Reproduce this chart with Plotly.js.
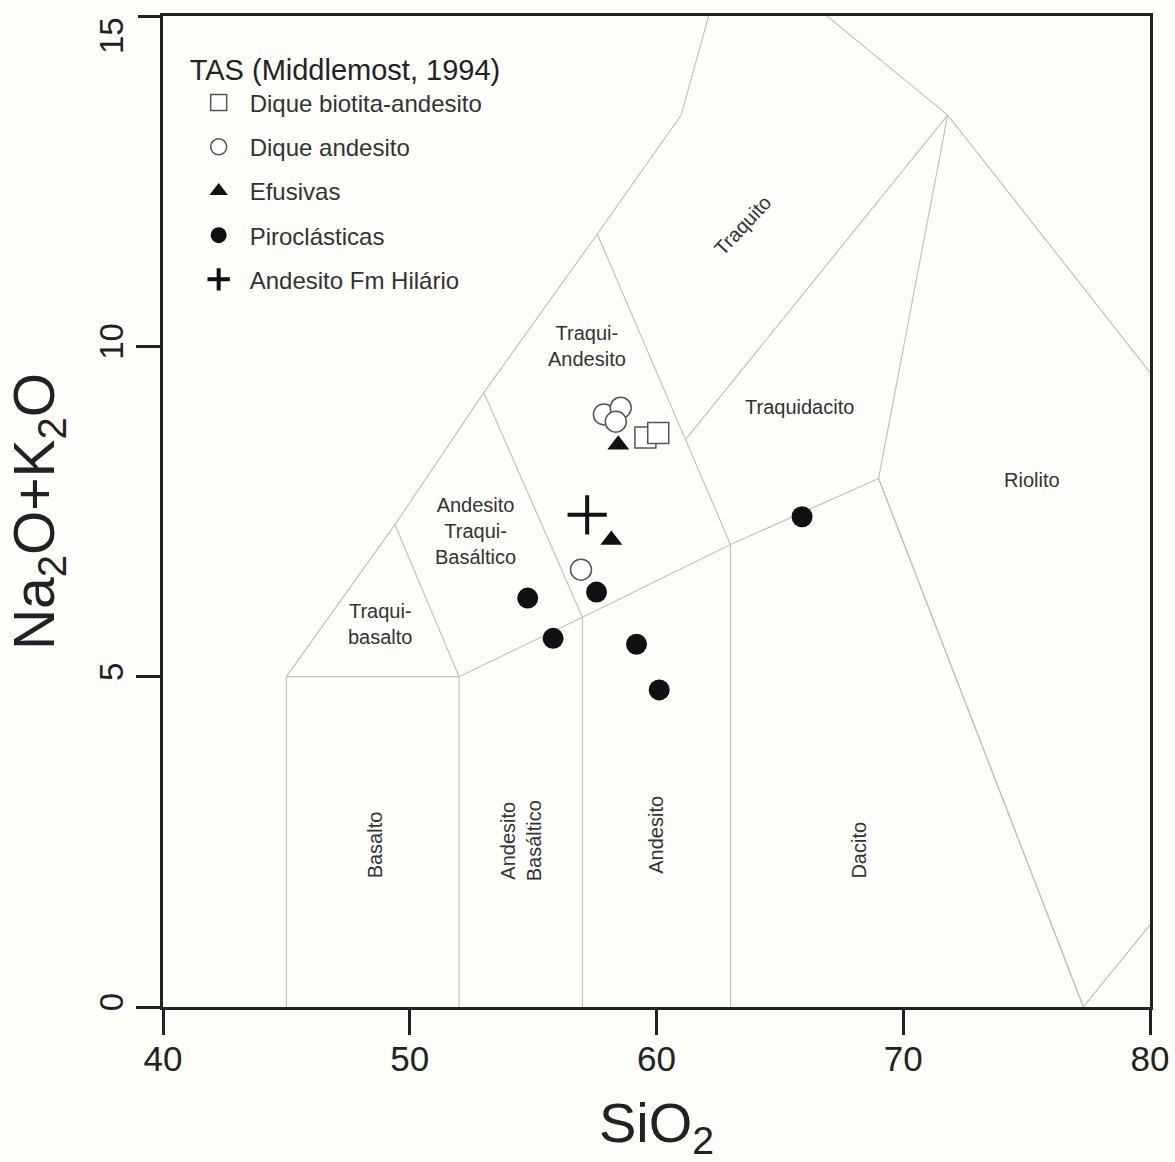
<!DOCTYPE html>
<html>
<head>
<meta charset="utf-8">
<script src="https://cdn.plot.ly/plotly-3.0.1.min.js"></script>
<style>html,body{margin:0;padding:0;background:#fdfdf9;}#chart{width:1175px;height:1162px;}</style>
</head>
<body>
<div id="chart"></div>
<script>
// TAS field boundaries (Middlemost, 1994) as polylines: SiO2 and Na2O+K2O vertices
var boundaryX = [
  [45, 45, 52, 52],
  [52, 57, 63, 69, 77.3, 87.5],
  [57, 57],
  [63, 63],
  [45, 49.4, 53, 57.6, 61, 63],
  [49.4, 52],
  [53, 57],
  [57.6, 63],
  [61.2, 71.8],
  [69, 71.8, 85.9],
  [63, 71.8],
  [69, 77.3]
];
var boundaryY = [
  [0, 5, 5, 0],
  [5, 5.9, 7, 8, 0, 4.7],
  [0, 5.9],
  [0, 7],
  [5, 7.3, 9.3, 11.7, 13.5, 16.2],
  [7.3, 5],
  [9.3, 5.9],
  [11.7, 7],
  [8.6, 13.5],
  [8, 13.5, 6.8],
  [16.2, 13.5],
  [8, 0]
];

// Field names and label positions
var fieldNames = ["Traqui-<br>Andesito", "Traquidacito", "Riolito", "Andesito<br>Traqui-<br>Basáltico",
  "Traqui-<br>basalto", "Basalto", "Andesito<br>Basáltico", "Andesito", "Dacito", "Traquito"];
var fieldX = [57.2, 65.78, 75.2, 52.65, 48.8, 48.6, 54.5, 60.0, 68.2, 63.5];
var fieldY = [10.0, 9.08, 7.98, 7.2, 5.8, 2.45, 2.52, 2.6, 2.38, 11.84];
var fieldAngle = [0, 0, 0, 0, 0, -90, -90, -90, -90, -47];

// Samples
var seriesNames = ["Dique biotita-andesito", "Dique andesito", "Efusivas", "Piroclásticas", "Andesito Fm Hilário"];
var biotitaSiO2 = [59.55, 60.07];
var biotitaAlk = [8.62, 8.69];
var diqueSiO2 = [57.87, 58.55, 58.35, 56.94];
var diqueAlk = [8.97, 9.07, 8.86, 6.62];
var efusivasSiO2 = [58.45, 58.17];
var efusivasAlk = [8.51, 7.07];
var piroSiO2 = [54.78, 55.81, 57.57, 59.19, 60.11, 65.9];
var piroAlk = [6.19, 5.58, 6.28, 5.49, 4.8, 7.42];
var hilarioSiO2 = [57.19];
var hilarioAlk = [7.45];

var xTicks = [40, 50, 60, 70, 80];
var yTicks = [0, 5, 10];
var yTopTick = [15];

var FONT = "Liberation Sans, Arial, sans-serif";
var traces = [];

// boundaries: one trace, segments split by nulls
var bx = [], by = [];
for (var i = 0; i < boundaryX.length; i++) {
  bx = bx.concat(boundaryX[i]); by = by.concat(boundaryY[i]);
  bx.push(null); by.push(null);
}
traces.push({x: bx, y: by, mode: "lines", type: "scatter", showlegend: false, hoverinfo: "skip",
  line: {color: "#c2c2c0", width: 1.2}, connectgaps: false});

traces.push({x: biotitaSiO2, y: biotitaAlk, name: seriesNames[0], legendgroup: "a", mode: "markers", type: "scatter",
  marker: {symbol: "square", size: 21, color: "#ffffff", line: {color: "#555555", width: 1.5}}});
traces.push({x: diqueSiO2, y: diqueAlk, name: seriesNames[1], legendgroup: "b", mode: "markers", type: "scatter",
  marker: {symbol: "circle", size: 21, color: "#ffffff", line: {color: "#555555", width: 1.5}}});
traces.push({x: efusivasSiO2, y: efusivasAlk, name: seriesNames[2], legendgroup: "c", mode: "markers", type: "scatter",
  marker: {symbol: "triangle-up", size: 19, color: "#111111", line: {width: 0}}});
traces.push({x: piroSiO2, y: piroAlk, name: seriesNames[3], legendgroup: "d", mode: "markers", type: "scatter",
  marker: {symbol: "circle", size: 21, color: "#111111", line: {width: 0}}});
traces.push({x: hilarioSiO2, y: hilarioAlk, name: seriesNames[4], legendgroup: "e", mode: "markers", type: "scatter",
  marker: {symbol: "cross-thin", size: 28, color: "#111111", line: {color: "#111111", width: 4}}});
// invisible trace to activate the overlay axis carrying the top tick
traces.push({x: [40], y: [15], yaxis: "y2", mode: "markers", type: "scatter", showlegend: false, hoverinfo: "skip",
  marker: {size: 1, opacity: 0}});

var annotations = [];
for (var j = 0; j < fieldNames.length; j++) {
  annotations.push({x: fieldX[j], y: fieldY[j], xref: "x", yref: "y", text: fieldNames[j], showarrow: false,
    textangle: fieldAngle[j], font: {family: FONT, size: 20, color: "#333333"}, align: "center"});
}

var layout = {
  width: 1175, height: 1162,
  margin: {l: 163, r: 25, t: 16, b: 155},
  paper_bgcolor: "#fdfdf9", plot_bgcolor: "#fdfdf9",
  font: {family: FONT, color: "#222222"},
  showlegend: true,
  legend: {x: 0.025, y: 0.973, xanchor: "left", yanchor: "top", bgcolor: "rgba(0,0,0,0)",
    font: {family: FONT, size: 24, color: "#333333"}, tracegroupgap: 10, itemwidth: 52,
    title: {text: "TAS (Middlemost, 1994)", font: {family: FONT, size: 29, color: "#222222"}}},
  xaxis: {range: [40, 80], tickvals: xTicks, ticktext: xTicks.map(String), showgrid: false, zeroline: false,
    showline: true, linecolor: "#222222", linewidth: 3, mirror: true,
    ticks: "outside", ticklen: 25, tickwidth: 3, tickcolor: "#222222", ticklabelstandoff: -6,
    tickfont: {family: FONT, size: 35, color: "#222222"},
    title: {text: "SiO<sub>2</sub>", font: {family: FONT, size: 56, color: "#222222"}, standoff: 29}},
  yaxis: {range: [0, 15], tickvals: yTicks, ticktext: yTicks.map(String), showgrid: false, zeroline: false,
    showline: true, linecolor: "#222222", linewidth: 3, mirror: true,
    ticks: "outside", ticklen: 24, tickwidth: 3, tickcolor: "#222222", tickangle: -90,
    tickfont: {family: FONT, size: 33, color: "#222222"},
    title: {text: "Na<sub>2</sub>O+K<sub>2</sub>O", font: {family: FONT, size: 57, color: "#222222"}, standoff: 20}},
  yaxis2: {range: [0, 15], overlaying: "y", side: "left", tickvals: yTopTick, ticktext: yTopTick.map(String),
    showgrid: false, zeroline: false, showline: false,
    ticks: "outside", ticklen: 24, tickwidth: 3, tickcolor: "#222222", tickangle: -90,
    ticklabelposition: "outside bottom", ticklabelstandoff: 26,
    tickfont: {family: FONT, size: 33, color: "#222222"}},
  annotations: annotations
};

Plotly.newPlot("chart", traces, layout, {displayModeBar: false, staticPlot: true});
</script>
</body>
</html>
